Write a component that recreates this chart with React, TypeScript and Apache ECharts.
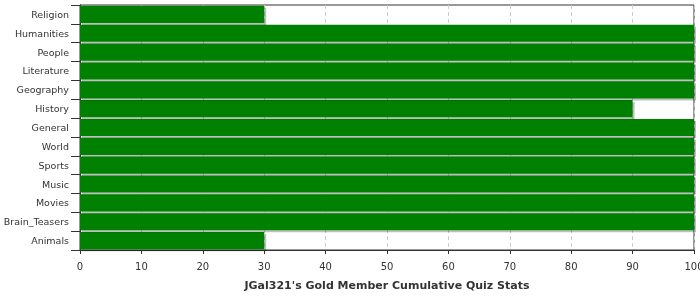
import React, { useEffect, useRef } from "react";
import * as echarts from "echarts";

const categories = [
  "Animals",
  "Brain_Teasers",
  "Movies",
  "Music",
  "Sports",
  "World",
  "General",
  "History",
  "Geography",
  "Literature",
  "People",
  "Humanities",
  "Religion",
];
const values = [30, 100, 100, 100, 100, 100, 100, 90, 100, 100, 100, 100, 30];
const xTicks = [0, 10, 20, 30, 40, 50, 60, 70, 80, 90, 100];
const title = "JGal321's Gold Member Cumulative Quiz Stats";

export default function App() {
  const ref = useRef<HTMLDivElement>(null);
  useEffect(() => {
    if (!ref.current) return;
    const chart = echarts.init(ref.current, null, { renderer: "svg" });
    chart.setOption({
      animation: false,
      textStyle: { fontFamily: "DejaVu Sans" },
      grid: {
        left: 80,
        right: 6,
        top: 5,
        bottom: 50,
        containLabel: false,
        outerBoundsMode: "none",
        show: true,
        borderColor: "#333",
        borderWidth: 1,
        backgroundColor: "transparent",
      },
      xAxis: {
        type: "value",
        min: xTicks[0],
        max: xTicks[xTicks.length - 1],
        interval: 10,
        axisLine: { show: true, lineStyle: { color: "#333" } },
        axisTick: { show: true, length: 4, lineStyle: { color: "#333" } },
        axisLabel: {
          color: "#333",
          fontSize: 10,
          margin: 11,
          fontFamily: "DejaVu Sans",
          showMaxLabel: true,
          hideOverlap: false,
        },
        splitLine: {
          show: true,
          lineStyle: { color: "#ccc", type: [4, 3] },
        },
      },
      yAxis: {
        type: "category",
        data: categories,
        axisLine: { show: true, lineStyle: { color: "#333" } },
        axisTick: {
          show: true,
          length: 9,
          alignWithLabel: false,
          lineStyle: { color: "#333" },
        },
        axisLabel: {
          color: "#333",
          fontSize: 9.5,
          margin: 11,
          fontFamily: "DejaVu Sans",
          interval: 0,
        },
        splitLine: { show: false },
      },
      series: [
        {
          type: "bar",
          data: values,
          barCategoryGap: "9%",
          itemStyle: {
            color: "#008000",
            shadowColor: "rgba(0,0,0,0.25)",
            shadowOffsetX: 2,
            shadowOffsetY: 2,
            shadowBlur: 0,
          },
        },
      ],
      graphic: [
        {
          type: "text",
          x: 387,
          y: 285,
          style: {
            text: title,
            fontFamily: "DejaVu Sans",
            fontSize: 11,
            fontWeight: "bold",
            fill: "#333",
            align: "center",
            verticalAlign: "middle",
          },
        },
      ],
    });
    return () => chart.dispose();
  }, []);
  return (
    <div
      ref={ref}
      style={{ position: "fixed", left: 0, top: 0, width: 700, height: 300 }}
    />
  );
}
